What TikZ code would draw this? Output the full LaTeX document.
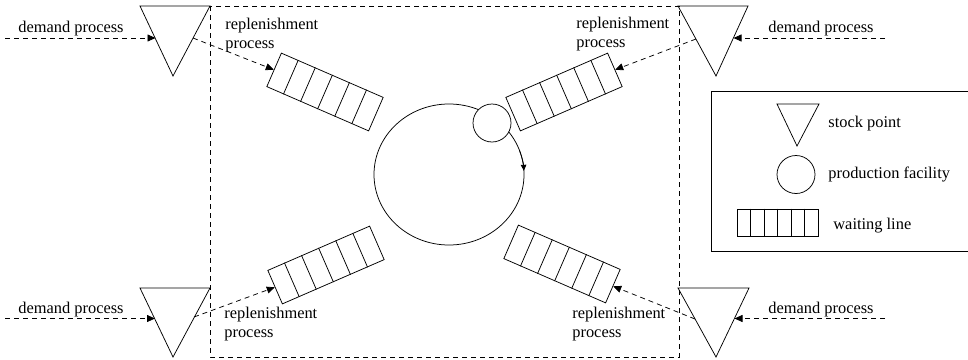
\documentclass[tikz,border=0pt]{standalone}
\usepackage{fontspec}
\setmainfont{Liberation Serif}
\usetikzlibrary{arrows.meta,calc}
\newcommand\qcells[2]{\foreach \k in {1,...,5}{\draw ($(#1.north west)!\k/6!(#1.north east)$) -- ($(#1.south west)!\k/6!(#1.south east)$);}}
\begin{document}
\begin{tikzpicture}[x=1pt,y=-1pt,line width=0.75pt,
  lbl/.style={inner sep=0pt, anchor=base west, font=\fontsize{16.4}{19}\selectfont},
  flow/.style={dash pattern=on 5pt off 4pt, -{Triangle[length=8pt,width=7pt]}},
  frame/.style={dash pattern=on 5pt off 4pt},
  queuebox/.style={draw, rectangle, minimum width=111pt, minimum height=36.5pt, inner sep=0pt, fill=white},
  legq/.style={draw, rectangle, minimum width=81pt, minimum height=27pt, inner sep=0pt},
  fac/.style={draw, circle, fill=white, minimum size=38pt, inner sep=0pt},
]
\useasboundingbox (0,0) rectangle (968,359);

% dashed frame
\draw[frame] (210,6) rectangle (679,357);

% stock points (triangles)
\draw (140,6) -- (210,6) -- (173,76) -- cycle;
\draw (678,6) -- (748,6) -- (716,76) -- cycle;
\draw (140,288) -- (210,288) -- (173,357) -- cycle;
\draw (678,288) -- (749,288) -- (716,357) -- cycle;

% connector end points on triangles
\coordinate (d1s) at (5,38);    \coordinate (d1e) at (155.5,38);
\coordinate (d2s) at (885,38);  \coordinate (d2e) at (733.5,38);
\coordinate (d3s) at (5,318.5); \coordinate (d3e) at (155,318.5);
\coordinate (d4s) at (885,318.5);\coordinate (d4e) at (734.5,318.5);
\coordinate (r1s) at (193,38);
\coordinate (r2s) at (696,39);
\coordinate (r3s) at (194,317);
\coordinate (r4s) at (695,319);

% production facility cycle
\draw (449,174.5) ellipse [x radius=75, y radius=70.5];
\draw[-{Triangle[length=6pt,width=5.5pt]}] (519.48,150.39) arc[start angle=-20, end angle=-3, x radius=75, y radius=70.5];
\node[fac] (pf) at (492,123) {};

% waiting lines
\node[queuebox, rotate=-23.5] (q1) at (325,92) {};
\node[queuebox, rotate=23.5] (q2) at (564,92) {};
\node[queuebox, rotate=23.5] (q3) at (326,265) {};
\node[queuebox, rotate=-23.5] (q4) at (562,264) {};
\qcells{q1}{}
\qcells{q2}{}
\qcells{q3}{}
\qcells{q4}{}

% demand arrows
\draw[flow] (d1s) -- (d1e);
\draw[flow] (d2s) -- (d2e);
\draw[flow] (d3s) -- (d3e);
\draw[flow] (d4s) -- (d4e);

% replenishment arrows
\draw[flow] (r1s) -- (q1.west);
\draw[flow] (r2s) -- (q2.east);
\draw[flow] (r3s) -- (q3.west);
\draw[flow] (r4s) -- (q4.east);

% labels
\node[lbl] (t1) at (18,32) {demand process};
\node[lbl] (t2) at (768,32) {demand process};
\node[lbl] (t3) at (18,313) {demand process};
\node[lbl] (t4) at (768,313) {demand process};

\node[lbl] (u1a) at (225,29.5) {replenishment};
\node[lbl] (u1b) at (225,48) {process};
\node[lbl] (u2a) at (576,28.5) {replenishment};
\node[lbl] (u2b) at (576,47) {process};
\node[lbl] (u3a) at (224,318) {replenishment};
\node[lbl] (u3b) at (224,337) {process};
\node[lbl] (u4a) at (572,318) {replenishment};
\node[lbl] (u4b) at (572,337) {process};

% legend
\draw (968,91) -- (711,91) -- (711,251) -- (968,251);
\draw (777,104) -- (819,104) -- (797,146) -- cycle;
\node[fac] (lc) at (796,174.5) {};
\node[legq] (lq) at (777.5,222.5) {};
\foreach \k in {1,...,5}{\draw ($(lq.north west)!\k/6!(lq.north east)$) -- ($(lq.south west)!\k/6!(lq.south east)$);}
\node[lbl] (l1) at (828,127) {stock point};
\node[lbl] (l2) at (828,178) {production facility};
\node[lbl] (l3) at (833,229) {waiting line};
\end{tikzpicture}
\end{document}
